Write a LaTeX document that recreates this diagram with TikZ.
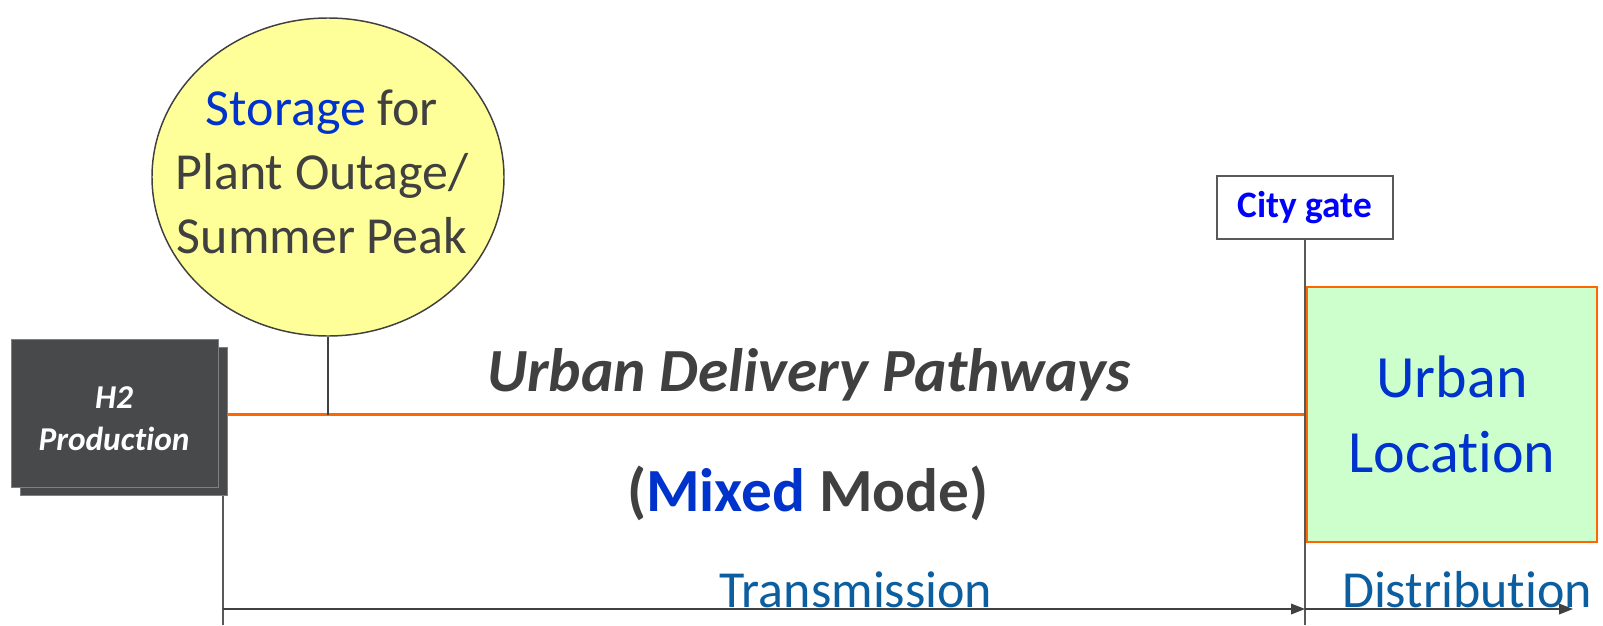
\documentclass[tikz,border=0pt]{standalone}
\usepackage{fontspec}
\setmainfont{Carlito}[Ligatures=NoCommon]
\usetikzlibrary{shapes.geometric,arrows.meta}
\definecolor{txtgray}{RGB}{64,64,64}
\definecolor{boxgray}{RGB}{72,73,75}
\definecolor{boxedge}{RGB}{127,127,127}
\definecolor{myblue}{RGB}{0,51,204}
\definecolor{gateblue}{RGB}{0,0,255}
\definecolor{tealblue}{RGB}{11,94,160}
\definecolor{myorange}{RGB}{255,102,0}
\definecolor{myyellow}{RGB}{255,255,153}
\definecolor{mygreen}{RGB}{204,255,204}
\definecolor{linegray}{RGB}{89,89,89}
\begin{document}
\begin{tikzpicture}[x=0.75pt,y=-0.75pt,
  prodbox/.style={rectangle,fill=boxgray,draw=boxedge,line width=0.6pt,
    minimum width=155.25pt,minimum height=111pt,inner sep=0pt},
  stortxt/.style={align=center,inner sep=0pt,text=txtgray,
    font=\fontsize{39}{48}\selectfont},
  gatebox/.style={rectangle,draw=linegray,line width=1.4pt,fill=white,
    minimum width=132pt,minimum height=47.25pt,inner sep=0pt,
    text=gateblue,font=\fontsize{28}{34}\selectfont\bfseries},
  urbanbox/.style={rectangle,draw=myorange,line width=1.6pt,fill=mygreen,
    minimum width=217.5pt,minimum height=191.25pt,inner sep=0pt,align=center,
    text=myblue,font=\fontsize{45}{56}\selectfont},
  stem/.style={draw=txtgray,line width=1.1pt},
  gline/.style={draw=linegray,line width=1.4pt},
  arr/.style={draw=txtgray,line width=1.1pt,-{Triangle[length=10.5pt,width=8pt]}},
  bigtxt/.style={anchor=base,inner sep=0pt,text=txtgray,
    font=\fontsize{46}{55}\selectfont\bfseries},
  axtxt/.style={anchor=base,inner sep=0pt,text=tealblue,
    font=\fontsize{39}{47}\selectfont}]
\useasboundingbox (0,0) rectangle (1603,625);

% urban box and gate (placed first so the orange line can refer to them)
\node[urbanbox] (urban) at (1452,414.5) {Urban\\Location};
\node[gatebox] (gate) at (1305,207.5) {City gate};

% H2 production (shadow + front)
\node[prodbox] (h2shadow) at (123.5,421.5) {};
\draw[myorange,line width=2.25pt] (h2shadow.east |- urban.west) -- (urban.west);
\node[prodbox] (h2) at (114.5,413) {};
\node[align=center,inner sep=0pt,text=white,
  font=\fontsize{25}{31.5}\selectfont\bfseries\itshape] (h2text) at (114,419) {H2\\Production};

% storage ellipse
\node[ellipse,draw=txtgray,line width=1.1pt,fill=myyellow,
  minimum width=264pt,minimum height=238.5pt,inner sep=0pt] (stor) at (328,177) {};
\node[stortxt] (stortext) at (322,171.5) {\textcolor{myblue}{Storage} for\\Plant Outage/\\Summer Peak};
\draw[stem] (stor.south) -- (stor.south |- urban.west);

% vertical lines
\coordinate (gatefoot) at (gate.south |- 0,625);
\draw[gline] (gate.south) -- (gatefoot);
\coordinate (h2top) at ([xshift=-3pt]h2shadow.south east);
\coordinate (h2foot) at (h2top |- 0,625);
\draw[gline] (h2top) -- (h2foot);

% arrows
\coordinate (tA) at (h2top |- 0,609);
\coordinate (tB) at (gate.south |- 0,609);
\coordinate (tC) at (1573,609);
\draw[arr] (tA) -- (tB);
\draw[arr] (tB) -- (tC);

% texts
\node[bigtxt,font=\fontsize{46}{55}\selectfont\bfseries\itshape] (title) at (809,391) {Urban Delivery Pathways};
\node[bigtxt] (mode) at (808,511) {(\textcolor{myblue}{Mixed} Mode)};
\node[axtxt] (trans) at (856,607) {Transmission};
\node[axtxt] (dist) at (1467,607) {Distribution};
\end{tikzpicture}
\end{document}
